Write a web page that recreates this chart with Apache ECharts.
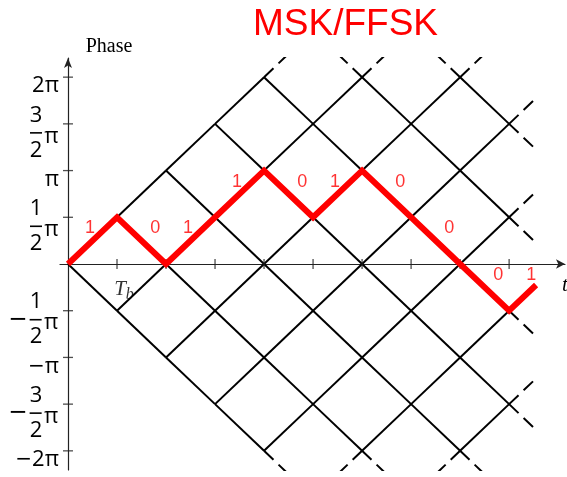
<!DOCTYPE html>
<html>
<head>
<meta charset="utf-8">
<script src="https://cdn.jsdelivr.net/npm/echarts@6/dist/echarts.min.js"></script>
<style>
  html, body { margin: 0; padding: 0; background: #fff; }
  #chart { width: 567px; height: 477px; }
</style>
</head>
<body>
<div id="chart"></div>
<script>
// Bit sequence: each bit advances the phase by +pi/2 (1) or -pi/2 (0) over one Tb
const bits = [1, 0, 1, 1, 0, 1, 0, 0, 0, 1];
// How much of the final bit period is drawn
const lastBitFraction = 0.55;

// Phase ticks (in units of pi/2) and their labels
const phaseTicks = [-4, -3, -2, -1, 1, 2, 3, 4];
const phaseTickLabels = ['−2π', '−3/2π', '−π', '−1/2π', '1/2π', 'π', '3/2π', '2π'];

// Bit-period ticks on the time axis (in units of Tb)
const timeTicks = [1, 2, 3, 4, 5, 6, 7, 8, 9];

// Extent of the phase trellis
const latticeMaxK = 9;
const latticeMaxM = 4;
const dashReach = 0.52;

// ---- phase trellis -------------------------------------------------------
const isNode = (k, m) => k >= 0 && k <= latticeMaxK && Math.abs(m) <= latticeMaxM &&
  Math.abs(m) <= k && ((k + m) & 1) === 0;
const inCone = (k, m) => k >= 0 && Math.abs(m) <= k;

const solidEdges = [];
const dashedEdges = [];
for (let k = 0; k <= latticeMaxK + 1; k++) {
  for (let m = -latticeMaxM - 1; m <= latticeMaxM + 1; m++) {
    if (((k + m) & 1) !== 0) continue;
    for (const d of [1, -1]) {
      const a = [k, m], b = [k + 1, m + d];
      const aOk = isNode(a[0], a[1]), bOk = isNode(b[0], b[1]);
      if (aOk && bOk) {
        solidEdges.push([a, b]);
      } else if (aOk && inCone(b[0], b[1])) {
        dashedEdges.push([a, [a[0] + dashReach, a[1] + d * dashReach]]);
      } else if (bOk && inCone(a[0], a[1])) {
        dashedEdges.push([b, [b[0] - dashReach, b[1] - d * dashReach]]);
      }
    }
  }
}

// ---- phase path and bit labels -----------------------------------------
const phasePath = [[0, 0]];
const bitLabels = [];
let m = 0;
bits.forEach((bit, i) => {
  const d = bit ? 1 : -1;
  const top = Math.max(m, m + d);
  bitLabels.push([i + (bit ? 0.45 : 0.78), top - 0.24, bit]);
  const f = i === bits.length - 1 ? lastBitFraction : 1;
  phasePath.push([i + f, m + d * f]);
  m += d;
});

// ---- phase tick label formatting ---------------------------------------
const labelFont = 'Open Sans';
const minusFont = 'DejaVu Sans';
const fracMinusSize = 23;
const axisColor = '#222';

// width of the fraction minus sign, so the rows above/below line up with it
const measureCtx = document.createElement('canvas').getContext('2d');
measureCtx.font = fracMinusSize + 'px "' + minusFont + '"';
const minusWidth = Math.ceil(measureCtx.measureText('−').width);

function phaseLabel(value) {
  const idx = phaseTicks.indexOf(Math.round(value));
  if (idx < 0) return '';
  const s = phaseTickLabels[idx];
  const neg = s.charAt(0) === '−';
  const body = neg ? s.slice(1) : s;
  if (body.indexOf('/') < 0) {
    return (neg ? '{mn|−}' : '') + '{tx|' + body + '}';
  }
  const num = body.split('/')[0];
  const den = body.split('/')[1].replace('π', '');
  const lead = neg ? '{sgE|}' : '';
  const leadMid = neg ? '{sg|−}' : '';
  return lead + '{spE|}{n|' + num + '}{spE|}{piE|}\n' +
         leadMid + '{sp|}{bar|}{sp|}{pi|π}\n' +
         lead + '{spE|}{n|' + den + '}{spE|}{piE|}';
}

const chart = echarts.init(document.getElementById('chart'), null, { renderer: 'canvas' });

chart.setOption({
  animation: false,
  backgroundColor: '#fff',
  title: {
    text: 'MSK/FFSK',
    left: 253,
    top: 6,
    padding: 0,
    textStyle: { color: '#ff0000', fontSize: 37, fontWeight: 'normal', fontFamily: 'Liberation Sans' }
  },
  grid: { left: 60, right: 2, top: 58, bottom: 7, containLabel: false, outerBoundsMode: 'none' },
  xAxis: {
    type: 'value',
    min: -0.163,
    max: 10.14,
    axisLine: {
      onZero: true,
      symbol: ['none', 'arrow'],
      symbolSize: [7, 9],
      lineStyle: { color: axisColor, width: 1.2 }
    },
    axisTick: { show: false },
    axisLabel: { show: false },
    splitLine: { show: false }
  },
  yAxis: {
    type: 'value',
    min: -4.41,
    max: 4.41,
    axisLine: {
      onZero: true,
      symbol: ['none', 'arrow'],
      symbolSize: [6, 10],
      lineStyle: { color: axisColor, width: 1.2 }
    },
    axisTick: { show: false },
    splitLine: { show: false },
    axisLabel: {
      customValues: phaseTicks,
      formatter: phaseLabel,
      margin: 1,
      padding: [18, 0, 0, 0],
      color: '#000',
      fontFamily: labelFont,
      fontSize: 22,
      rich: {
        tx:  { fontFamily: labelFont, fontSize: 22, color: '#000' },
        mn:  { fontFamily: minusFont, fontSize: 20, color: '#000' },
        n:   { fontFamily: labelFont, fontSize: 22, color: '#000', width: 12, align: 'center', lineHeight: 23 },
        bar: { width: 12, height: 1.6, backgroundColor: '#000', align: 'center', lineHeight: 12 },
        sg:  { fontFamily: minusFont, fontSize: fracMinusSize, color: '#000', align: 'center', lineHeight: 12 },
        sgE: { width: minusWidth, align: 'center', lineHeight: 23 },
        sp:  { width: 2, align: 'center', lineHeight: 12 },
        spE: { width: 2, align: 'center', lineHeight: 23 },
        pi:  { fontFamily: labelFont, fontSize: 22, color: '#000', width: 15, align: 'center', lineHeight: 12, padding: [7, 0, 0, 0] },
        piE: { width: 15, align: 'center', lineHeight: 23 }
      }
    }
  },
  graphic: [
    {
      type: 'text', x: 109, y: 47, silent: true,
      style: { text: 'Phase', font: '20px "Liberation Serif"', fill: '#000', textAlign: 'center', textVerticalAlign: 'middle' }
    },
    {
      type: 'text', x: 562, y: 285, silent: true,
      style: { text: 't', font: 'italic 21px "Liberation Serif"', fill: '#000', textAlign: 'left', textVerticalAlign: 'middle' }
    }
  ],
  series: [
    {
      // Tb label under the first bit-period tick
      type: 'scatter',
      z: 1,
      silent: true,
      data: [[timeTicks[0], 0]],
      symbolSize: 1,
      itemStyle: { color: 'rgba(0,0,0,0)' },
      label: {
        show: true,
        position: 'inside',
        offset: [7, 25],
        formatter: '{t|T}{s|b}',
        rich: {
          t: { fontFamily: 'Liberation Serif', fontStyle: 'italic', fontSize: 21, color: '#000' },
          s: { fontFamily: 'Liberation Serif', fontStyle: 'italic', fontSize: 16, color: '#000', padding: [12, 0, 0, 0] }
        }
      }
    },
    {
      type: 'lines',
      coordinateSystem: 'cartesian2d',
      z: 3,
      silent: true,
      data: solidEdges.map(c => ({ coords: c })),
      lineStyle: { color: '#000', width: 2, opacity: 1, curveness: 0 }
    },
    {
      type: 'lines',
      coordinateSystem: 'cartesian2d',
      z: 3,
      silent: true,
      data: dashedEdges.map(c => ({ coords: c })),
      lineStyle: { color: '#000', width: 2, opacity: 1, curveness: 0, type: [13, 7] }
    },
    {
      // axis ticks crossing the time axis
      type: 'scatter',
      z: 4,
      silent: true,
      data: timeTicks.map(k => [k, 0]),
      symbol: 'rect',
      symbolSize: [1.3, 10],
      itemStyle: { color: axisColor }
    },
    {
      // axis ticks crossing the phase axis
      type: 'scatter',
      z: 4,
      silent: true,
      data: phaseTicks.map(v => [0, v]),
      symbol: 'rect',
      symbolSize: [10, 1.3],
      itemStyle: { color: axisColor }
    },
    {
      type: 'line',
      z: 5,
      silent: true,
      data: phasePath,
      symbol: 'none',
      lineStyle: { color: '#ff0000', width: 6, join: 'miter', cap: 'butt' }
    },
    {
      type: 'scatter',
      z: 6,
      silent: true,
      data: bitLabels,
      symbolSize: 1,
      itemStyle: { color: 'rgba(0,0,0,0)' },
      label: {
        show: true,
        position: 'inside',
        formatter: p => String(p.value[2]),
        color: '#ff0000',
        fontFamily: 'Liberation Sans',
        fontSize: 18
      }
    }
  ]
});
</script>
</body>
</html>
